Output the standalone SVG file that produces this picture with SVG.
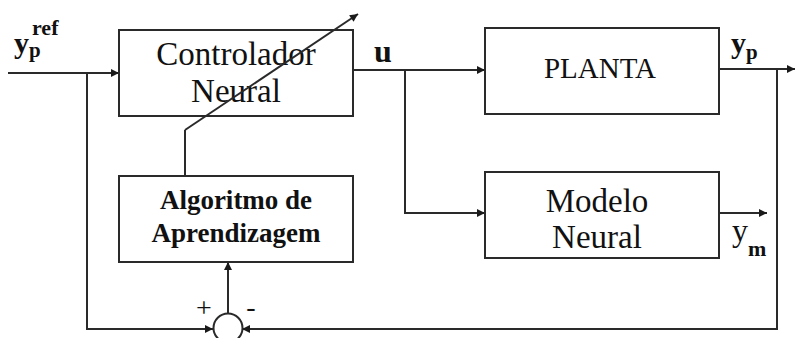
<svg xmlns="http://www.w3.org/2000/svg" width="795" height="338" viewBox="0 0 795 338">
  <defs>
    <marker id="arrow" viewBox="0 0 10 10" refX="10" refY="5" markerWidth="9" markerHeight="8" markerUnits="userSpaceOnUse" orient="auto">
      <path d="M0,0 L10,5 L0,10 z" fill="#1a1a1a"/>
    </marker>
    <style>
      .box { fill: #fff; stroke: #2a2a2a; stroke-width: 2; }
      .wire { fill: none; stroke: #2a2a2a; stroke-width: 2; }
    </style>
  </defs>
  <rect width="795" height="338" fill="#fff"/>

  <!-- signal lines -->
  <g id="connectors">
    <path class="wire" d="M8,73 H119" marker-end="url(#arrow)"/>
    <path class="wire" d="M87,73 V329 H213" marker-end="url(#arrow)"/>
    <path class="wire" d="M353,70 H485" marker-end="url(#arrow)"/>
    <path class="wire" d="M405,70 V213 H485" marker-end="url(#arrow)"/>
    <path class="wire" d="M719,213 H767" marker-end="url(#arrow)"/>
    <path class="wire" d="M719,69 H795" marker-end="url(#arrow)"/>
    <path class="wire" d="M777,69 V329 H242" marker-end="url(#arrow)"/>
    <path class="wire" d="M228,313 V262" marker-end="url(#arrow)"/>
    <path class="wire" d="M185,176 V130"/>
  </g>

  <g font-family="Liberation Serif, serif" fill="#111">
    <g id="controlador">
      <rect class="box" x="119" y="30" width="234" height="86"/>
      <text x="236" y="65" font-size="33" text-anchor="middle">Controlador</text>
      <text x="236" y="102" font-size="33" text-anchor="middle">Neural</text>
    </g>

    <!-- adaptive weight arrow crossing the controller -->
    <path id="ajuste" class="wire" d="M185,130 L358,14" marker-end="url(#arrow)"/>

    <g id="planta">
      <rect class="box" x="485" y="28" width="234" height="86"/>
      <text x="600" y="78" font-size="29" text-anchor="middle">PLANTA</text>
    </g>

    <g id="modelo">
      <rect class="box" x="485" y="172" width="234" height="86"/>
      <text x="597" y="212" font-size="33" text-anchor="middle">Modelo</text>
      <text x="597" y="248" font-size="33" text-anchor="middle">Neural</text>
    </g>

    <g id="algoritmo">
      <rect class="box" x="119" y="176" width="234" height="86"/>
      <text x="236" y="209" font-size="27" font-weight="bold" text-anchor="middle">Algoritmo de</text>
      <text x="236" y="242" font-size="27" font-weight="bold" text-anchor="middle">Aprendizagem</text>
    </g>

    <g id="somador">
      <circle cx="228" cy="328" r="14.5" fill="#fff" stroke="#2a2a2a" stroke-width="2"/>
      <text x="204" y="317" font-size="28" text-anchor="middle">+</text>
      <text x="251" y="316" font-size="28" text-anchor="middle">-</text>
    </g>

    <g id="rotulos" font-weight="bold">
      <text x="14" y="53" font-size="30">y</text>
      <text x="29" y="57" font-size="21">p</text>
      <text x="32" y="35" font-size="22">ref</text>
      <text x="374" y="62" font-size="32">u</text>
      <text x="731" y="53" font-size="30">y</text>
      <text x="746" y="59" font-size="21">p</text>
      <text x="732" y="241" font-size="32" font-weight="normal">y</text>
      <text x="748" y="256" font-size="22">m</text>
    </g>
  </g>
</svg>
